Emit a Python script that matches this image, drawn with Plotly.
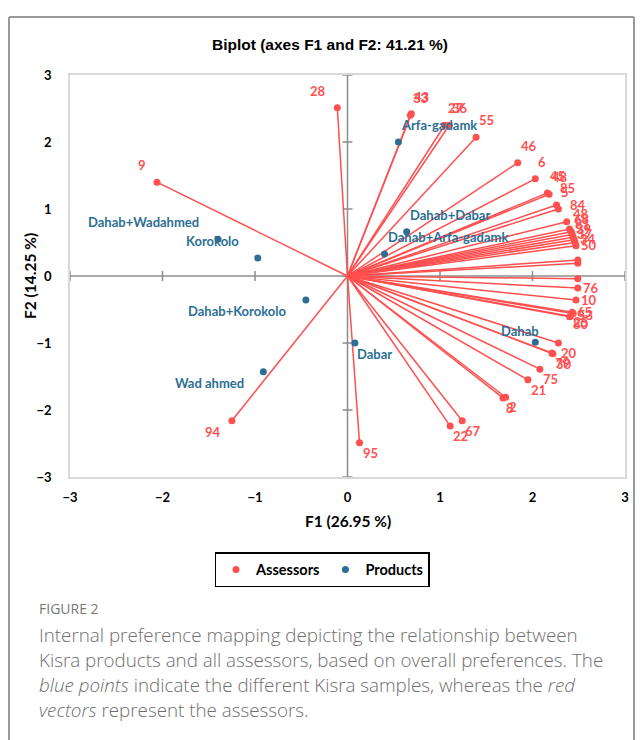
import math
import plotly.graph_objects as go

# Assessor loadings on F1 / F2 (vector end points)
assessor_ids = [
    "28", "43", "33", "27", "36", "55", "46", "6", "45", "48", "85", "5", "84",
    "48", "68", "81", "39", "37", "34", "50",
    "", "", "",
    "76", "10", "65", "53", "25", "80", "20", "79", "30", "75", "21", "8", "2",
    "22", "67", "95", "94", "9",
]
assessor_f1 = [
    -0.11, 0.69, 0.68, 1.05, 1.10, 1.39, 1.84, 2.03, 2.16, 2.18, 2.26, 2.28, 2.37,
    2.40, 2.42, 2.43, 2.44, 2.45, 2.46, 2.47,
    2.49, 2.49, 2.49,
    2.49, 2.47, 2.43, 2.44, 2.41, 2.40, 2.28, 2.21, 2.22, 2.08, 1.95, 1.68, 1.71,
    1.11, 1.24, 0.13, -1.25, -2.06,
]
assessor_f2 = [
    2.51, 2.42, 2.40, 2.25, 2.25, 2.07, 1.69, 1.45, 1.24, 1.22, 1.06, 1.00, 0.81,
    0.70, 0.66, 0.62, 0.58, 0.54, 0.50, 0.45,
    0.24, 0.19, -0.04,
    -0.18, -0.36, -0.54, -0.56, -0.60, -0.61, -1.00, -1.15, -1.16, -1.39, -1.55, -1.82, -1.81,
    -2.24, -2.16, -2.49, -2.16, 1.40,
]

# Product scores on F1 / F2
product_names = [
    "Arfa-gadamk", "Dahab+Dabar", "Dahab+Arfa-gadamk", "Dahab", "Dabar",
    "Wad ahmed", "Dahab+Korokolo", "Korokolo", "Dahab+Wadahmed",
]
product_f1 = [0.55, 0.64, 0.40, 2.03, 0.08, -0.91, -0.45, -0.97, -1.40]
product_f2 = [2.00, 0.66, 0.33, -0.99, -1.00, -1.43, -0.36, 0.27, 0.55]

axis_ticks = [-3, -2, -1, 0, 1, 2, 3]

RED = "#ff4f4f"
BLUE = "#2b6f94"
LABEL_FONT = "Lato"

# plot-area geometry in page pixels (used for paper-coordinate placement)
W, H = 641, 740
PL, PR, PT, PB = 70, 625, 75, 477


def px_x(px):
    return (px - PL) / (PR - PL)


def px_y(py):
    return (PB - py) / (PB - PT)


def label_offset(x, y, left_gap):
    """Anchor and pixel shift for a point label, pushed away from the origin."""
    ang = math.degrees(math.atan2(y, x))
    if x >= 0:
        if ang >= 17:
            down = -17
        elif ang >= 10:
            down = -17 * (ang - 10) / 7
        elif ang > -12.5:
            down = 0
        elif ang > -15:
            down = 10 * (-12.5 - ang) / 2.5
        else:
            down = 10
        xshift = 3 if abs(down) < 5 else 1
        return dict(xanchor="left", xshift=xshift, yshift=-down)
    down = -17 if y >= 0 else 11
    return dict(xanchor="right", xshift=-left_gap, yshift=-down)


product_label_override = {"Dahab": dict(xanchor="center", xshift=-15, yshift=11)}

fig = go.Figure()

# assessor vectors from the origin
vx, vy = [], []
for x, y in zip(assessor_f1, assessor_f2):
    vx += [0, x, None]
    vy += [0, y, None]
fig.add_trace(go.Scatter(
    x=vx, y=vy, mode="lines", line=dict(color=RED, width=1.5),
    showlegend=False, hoverinfo="skip",
))

fig.add_trace(go.Scatter(
    x=assessor_f1, y=assessor_f2, mode="markers", name="Assessors",
    marker=dict(color=RED, size=7),
))
fig.add_trace(go.Scatter(
    x=product_f1, y=product_f2, mode="markers", name="Products",
    marker=dict(color=BLUE, size=7),
))

annotations = []
for name, x, y in zip(assessor_ids, assessor_f1, assessor_f2):
    if not name:
        continue
    annotations.append(dict(
        text=f"<b>{name}</b>", x=x, y=y, xref="x", yref="y", showarrow=False,
        yanchor="middle", font=dict(family=LABEL_FONT, size=13, color=RED),
        **label_offset(x, y, 9),
    ))
for name, x, y in zip(product_names, product_f1, product_f2):
    pos = product_label_override.get(name) or label_offset(x, y, 17)
    if x >= 0 and y < 0 and name not in product_label_override:
        pos = dict(xanchor="left", xshift=0, yshift=-11)
    elif x >= 0 and name not in product_label_override:
        pos = dict(xanchor="left", xshift=1, yshift=17)
    annotations.append(dict(
        text=f"<b>{name}</b>", x=x, y=y, xref="x", yref="y", showarrow=False,
        yanchor="middle", font=dict(family=LABEL_FONT, size=13, color=BLUE),
        **pos,
    ))

# axes through the origin with small cross ticks
shapes = [
    dict(type="line", xref="x", yref="y", x0=-3, x1=3, y0=0, y1=0,
         line=dict(color="#8c8c8c", width=1.5), layer="below"),
    dict(type="line", xref="x", yref="y", x0=0, x1=0, y0=-3, y1=3,
         line=dict(color="#8c8c8c", width=1.5), layer="below"),
]
for t in axis_ticks:
    shapes.append(dict(type="line", xref="x", yref="y", xsizemode="pixel", xanchor=0,
                       x0=-5, x1=5, y0=t, y1=t, line=dict(color="#8c8c8c", width=1.5),
                       layer="below"))
    shapes.append(dict(type="line", xref="x", yref="y", ysizemode="pixel", yanchor=0,
                       y0=-5, y1=5, x0=t, x1=t, line=dict(color="#8c8c8c", width=1.5),
                       layer="below"))

# figure panel border
border = dict(color="#9a9a9a", width=2)
shapes += [
    dict(type="line", xref="paper", yref="paper", x0=px_x(9), x1=px_x(9),
         y0=px_y(17), y1=px_y(745), line=border),
    dict(type="line", xref="paper", yref="paper", x0=px_x(9), x1=px_x(634),
         y0=px_y(17), y1=px_y(17), line=border),
    dict(type="line", xref="paper", yref="paper", x0=px_x(634), x1=px_x(634),
         y0=px_y(17), y1=px_y(745), line=border),
]

annotations += [
    dict(text="<b>F1 (26.95 %)</b>", xref="paper", yref="paper",
         x=px_x(348), y=px_y(521), xanchor="center", yanchor="middle", showarrow=False,
         font=dict(family=LABEL_FONT, size=15.5, color="#000")),
    dict(text="<b>F2 (14.25 %)</b>", xref="paper", yref="paper",
         x=px_x(30), y=px_y(276), xanchor="center", yanchor="middle",
         showarrow=False, textangle=-90,
         font=dict(family=LABEL_FONT, size=15.5, color="#000")),
    dict(text="FIGURE 2", xref="paper", yref="paper", xanchor="left", yanchor="middle",
         x=px_x(37), y=px_y(608), showarrow=False,
         font=dict(family="Open Sans", size=14, color="#777777")),
]
caption_lines = [
    "Internal preference mapping depicting the relationship between",
    "Kisra products and all assessors, based on overall preferences. The",
    "<i>blue points</i> indicate the different Kisra samples, whereas the <i>red</i>",
    "<i>vectors</i> represent the assessors.",
]
for i, line in enumerate(caption_lines):
    annotations.append(dict(
        text=line, xref="paper", yref="paper", xanchor="left", yanchor="middle",
        x=px_x(37), y=px_y(635 + 25 * i), showarrow=False,
        font=dict(family="Open Sans", size=18.8, color="#6e6e6e", weight=300),
    ))

axis_common = dict(
    range=[-3, 3], tickvals=axis_ticks, showgrid=False, zeroline=False,
    showline=True, mirror=True, linecolor="#d9d9d9", linewidth=1.5,
    ticks="", tickfont=dict(family=LABEL_FONT, size=13, color="#000", weight="bold"),
    fixedrange=True,
)

fig.update_layout(
    width=W, height=H,
    margin=dict(l=PL, r=W - PR, t=PT, b=H - PB),
    paper_bgcolor="white", plot_bgcolor="white",
    title=dict(text="<b>Biplot (axes F1 and F2: 41.21 %)</b>",
               font=dict(family="Liberation Sans", size=15.5, color="#000"),
               x=330 / W, xanchor="center", y=1 - 45 / H, yanchor="middle"),
    xaxis=dict(**axis_common, ticklabelstandoff=8),
    yaxis=dict(**axis_common, ticklabelstandoff=14),
    shapes=shapes, annotations=annotations,
    showlegend=True,
    legend=dict(orientation="h", x=px_x(322), xanchor="center", y=px_y(552), yanchor="top",
                bordercolor="#000", borderwidth=1.5,
                font=dict(family=LABEL_FONT, size=14.5, color="#000", weight="bold"),
                itemwidth=30),
)

fig.write_html("out.html")
